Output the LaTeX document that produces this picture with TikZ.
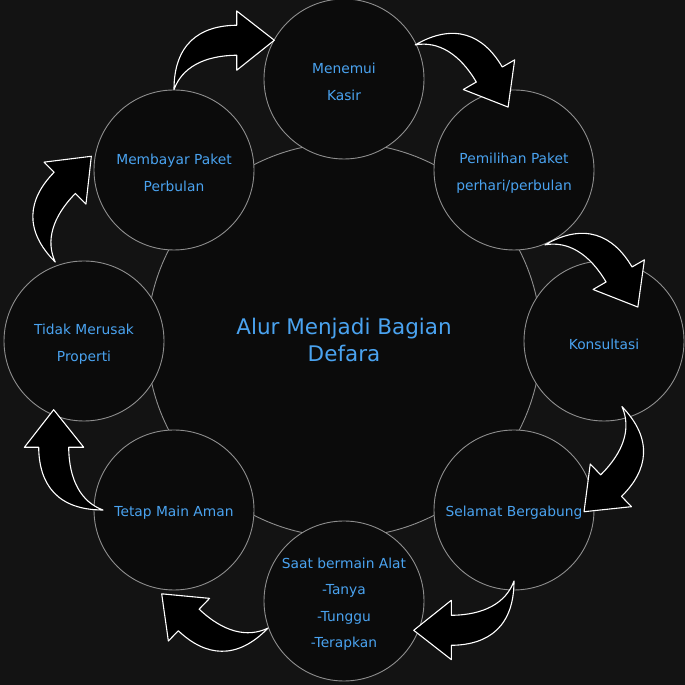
\documentclass[tikz,border=0pt]{standalone}
\usepackage{fontspec}
\setmainfont{DejaVu Sans}
\usetikzlibrary{calc}

\definecolor{bgdark}{HTML}{131313}
\definecolor{circfill}{HTML}{0B0B0B}
\definecolor{ringgray}{HTML}{8E8E8E}
\definecolor{labelblue}{HTML}{4AA3F0}

\tikzset{
  stepcirc/.style={circle, draw=ringgray, fill=circfill, line width=0.9pt,
    minimum size=160pt, inner sep=0pt},
  steptext/.style={align=center, text=labelblue, yshift=-3pt,
    font=\fontsize{13.8}{26.5}\selectfont},
  bigring/.style={stepcirc, minimum size=394pt, align=center, text=labelblue,
    font=\fontsize{21.5}{27}\selectfont},
  arrowbody/.style={fill=black, draw=white, line width=1.1pt, line join=round},
  jumparrow/.pic={
    \filldraw[arrowbody] (0,0) .. controls (0,45) and (25,64) .. (62.7,64.3)
      -- (62.7,78.6) -- (100.3,49.3) -- (62.7,19.3) -- (62.7,34.3)
      .. controls (30,34) and (8,22) .. (0,0) -- cycle;
  }
}

\begin{document}
\begin{tikzpicture}[x=1pt, y=1pt]
  \useasboundingbox (0,0) rectangle (685,685);
  \fill[bgdark] (0,0) rectangle (685,685);

  \node[bigring] (hub) at (344,345) {Alur Menjadi Bagian\\Defara};

  \node[stepcirc, label={[steptext]center:{Menemui\\Kasir}}] (menemui) at (344,606) {};
  \node[stepcirc, label={[steptext]center:{Pemilihan Paket\\perhari/perbulan}}] (pemilihan) at (514,515) {};
  \node[stepcirc, label={[steptext]center:{Konsultasi}}] (konsultasi) at (604,344) {};
  \node[stepcirc, label={[steptext]center:{Selamat Bergabung}}] (selamat) at (514,175) {};
  \node[stepcirc, label={[steptext]center:{Saat bermain Alat\\-Tanya\\-Tunggu\\-Terapkan}}] (saat) at (344,84) {};
  \node[stepcirc, label={[steptext]center:{Tetap Main Aman}}] (tetap) at (174,175) {};
  \node[stepcirc, label={[steptext]center:{Tidak Merusak\\Properti}}] (tidak) at (84,344) {};
  \node[stepcirc, label={[steptext]center:{Membayar Paket\\Perbulan}}] (membayar) at (174,515) {};

  % curved arrows, tail on the source circle
  \pic[rotate=0]    at (membayar.north)              {jumparrow};
  \pic[rotate=-60]  at ($(menemui)+(25.6:79)$)       {jumparrow};
  \pic[rotate=-60]  at ($(pemilihan)+(-67.5:81)$)    {jumparrow};
  \pic[rotate=-136] at ($(konsultasi)+(-74.7:68)$)   {jumparrow};
  \pic[rotate=180]  at ($(selamat)+(0,-71)$)         {jumparrow};
  \pic[rotate=136]  at ($(saat)+(199.6:80.6)$)       {jumparrow};
  \pic[rotate=90]   at ($(tetap)+(-71,0)$)           {jumparrow};
  \pic[rotate=45]   at ($(tidak)+(110:84)$)          {jumparrow};
\end{tikzpicture}
\end{document}
